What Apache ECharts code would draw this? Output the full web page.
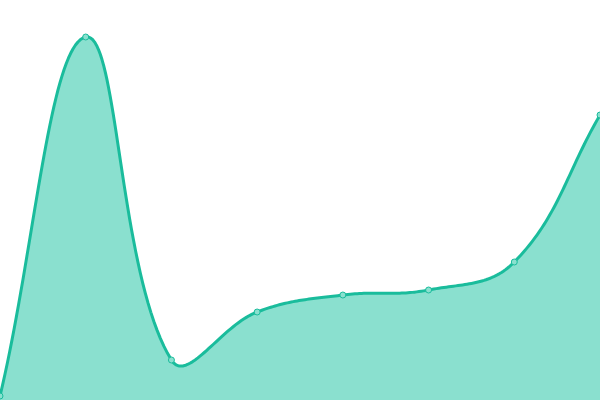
<!DOCTYPE html>
<html><head><meta charset="utf-8">
<script src="https://cdn.jsdelivr.net/npm/echarts@6/dist/echarts.min.js"></script>
<style>html,body{margin:0;padding:0;background:#fff}#c{width:600px;height:400px}</style>
</head><body><div id="c"></div>
<script>
const categories = ['A','B','C','D','E','F','G','H'];
const values = [4, 363, 40, 88, 105, 110, 138, 285];
const LINE = '#1abc9c';
const FILL = '#8ae0cf';
const TENSION = 0.4;

function controlPoints(pts) {
  const n = pts.length, cps = [];
  for (let i = 0; i < n; i++) {
    const prev = pts[Math.max(0, i - 1)], cur = pts[i], next = pts[Math.min(n - 1, i + 1)];
    const d01 = Math.hypot(cur[0] - prev[0], cur[1] - prev[1]);
    const d12 = Math.hypot(next[0] - cur[0], next[1] - cur[1]);
    let s01 = d01 / (d01 + d12), s12 = d12 / (d01 + d12);
    if (!isFinite(s01)) s01 = 0;
    if (!isFinite(s12)) s12 = 0;
    const fa = TENSION * s01, fb = TENSION * s12;
    cps.push({
      prev: [cur[0] - fa * (next[0] - prev[0]), cur[1] - fa * (next[1] - prev[1])],
      next: [cur[0] + fb * (next[0] - prev[0]), cur[1] + fb * (next[1] - prev[1])]
    });
  }
  return cps;
}

function sampleCurve(pts) {
  const cps = controlPoints(pts), out = [pts[0]];
  for (let i = 0; i < pts.length - 1; i++) {
    const p0 = pts[i], p1 = cps[i].next, p2 = cps[i + 1].prev, p3 = pts[i + 1];
    const N = 40;
    for (let k = 1; k <= N; k++) {
      const t = k / N, u = 1 - t;
      out.push([
        u*u*u*p0[0] + 3*u*u*t*p1[0] + 3*u*t*t*p2[0] + t*t*t*p3[0],
        u*u*u*p0[1] + 3*u*u*t*p1[1] + 3*u*t*t*p2[1] + t*t*t*p3[1]
      ]);
    }
  }
  return out;
}

const chart = echarts.init(document.getElementById('c'));
chart.setOption({
  animation: false,
  grid: {left: 0, right: 0, top: 0, bottom: 0},
  xAxis: {type: 'category', data: categories, boundaryGap: false, show: false},
  yAxis: {type: 'value', min: 0, max: 400, show: false},
  series: [{
    type: 'custom',
    data: values.map((v, i) => [i, v]),
    clip: false,
    renderItem: function (params, api) {
      if (params.dataIndex !== 0) return null;
      const pts = values.map((v, i) => api.coord([i, v]));
      const curve = sampleCurve(pts);
      const base = api.coord([0, 0])[1];
      const area = curve.concat([[pts[pts.length - 1][0], base], [pts[0][0], base]]);
      return {
        type: 'group',
        children: [
          {type: 'polygon', shape: {points: area}, style: {fill: FILL}, silent: true},
          {type: 'polyline', shape: {points: curve}, style: {stroke: LINE, lineWidth: 3, fill: null, lineJoin: 'round'}, silent: true}
        ]
      };
    },
    z: 1
  }, {
    type: 'line',
    data: values,
    symbol: 'circle',
    symbolSize: 6,
    lineStyle: {opacity: 0},
    itemStyle: {color: FILL, borderColor: LINE, borderWidth: 1},
    z: 2
  }]
});
</script></body></html>
